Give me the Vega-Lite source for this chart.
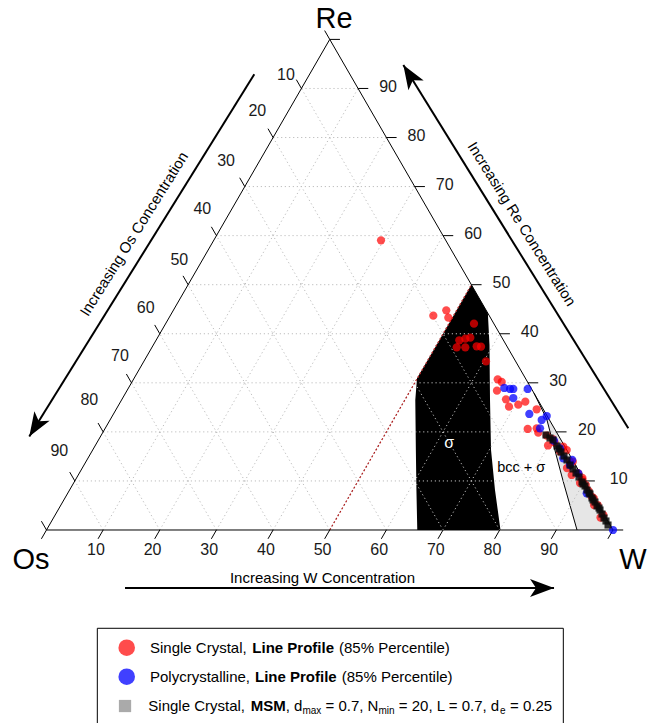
{
"$schema": "https://vega.github.io/schema/vega-lite/v6.json",
"width": 657, "height": 723, "autosize": {"type": "none"}, "padding": 0, "background": "white",
"config": {"view": {"stroke": null}, "text": {"font": "Liberation Sans"}},
"datasets": {
"bcc": [{"y":24.13,"xl":86.07,"xr":86.07},{"y":19.59,"xl":88.30,"xr":88.69},{"y":14.56,"xl":89.62,"xr":91.59},{"y":8.47,"xl":91.24,"xr":95.11},{"y":0,"xl":93.65,"xr":100}],
"sigma": [{"y":43.30,"xl":75,"xr":75},{"y":38.25,"xl":72.09,"xr":77.91},{"y":32.66,"xl":68.86,"xr":78.20},{"y":26.8,"xl":65.4,"xr":78.25},{"y":22.95,"xl":65.1,"xr":78.29},{"y":14.12,"xl":65.2,"xr":78.47},{"y":7.06,"xl":65.3,"xr":79.17},{"y":0,"xl":65.45,"xr":80.14}],
"grid": [
{"x":5,"y":8.66,"x2":95,"y2":8.66},{"x":10,"y":17.321,"x2":90,"y2":17.321},{"x":15,"y":25.981,"x2":85,"y2":25.981},{"x":20,"y":34.641,"x2":80,"y2":34.641},{"x":25,"y":43.301,"x2":75,"y2":43.301},{"x":30,"y":51.962,"x2":70,"y2":51.962},{"x":35,"y":60.622,"x2":65,"y2":60.622},{"x":40,"y":69.282,"x2":60,"y2":69.282},{"x":45,"y":77.942,"x2":55,"y2":77.942},
{"x":10,"y":0,"x2":55,"y2":77.942},{"x":20,"y":0,"x2":60,"y2":69.282},{"x":30,"y":0,"x2":65,"y2":60.622},{"x":40,"y":0,"x2":70,"y2":51.962},{"x":50,"y":0,"x2":75,"y2":43.301},{"x":60,"y":0,"x2":80,"y2":34.641},{"x":70,"y":0,"x2":85,"y2":25.981},{"x":80,"y":0,"x2":90,"y2":17.321},{"x":90,"y":0,"x2":95,"y2":8.66},
{"x":90,"y":0,"x2":45,"y2":77.942},{"x":80,"y":0,"x2":40,"y2":69.282},{"x":70,"y":0,"x2":35,"y2":60.622},{"x":60,"y":0,"x2":30,"y2":51.962},{"x":50,"y":0,"x2":25,"y2":43.301},{"x":40,"y":0,"x2":20,"y2":34.641},{"x":30,"y":0,"x2":15,"y2":25.981},{"x":20,"y":0,"x2":10,"y2":17.321},{"x":10,"y":0,"x2":5,"y2":8.66}],
"edges": [{"x":0,"y":0,"x2":100,"y2":0},{"x":100,"y":0,"x2":50,"y2":86.603},{"x":50,"y":86.603,"x2":0,"y2":0}],
"ticks": [
{"x":0,"y":0,"x2":-0.9,"y2":-1.559},{"x":10,"y":0,"x2":9.1,"y2":-1.559},{"x":20,"y":0,"x2":19.1,"y2":-1.559},{"x":30,"y":0,"x2":29.1,"y2":-1.559},{"x":40,"y":0,"x2":39.1,"y2":-1.559},{"x":50,"y":0,"x2":49.1,"y2":-1.559},{"x":60,"y":0,"x2":59.1,"y2":-1.559},{"x":70,"y":0,"x2":69.1,"y2":-1.559},{"x":80,"y":0,"x2":79.1,"y2":-1.559},{"x":90,"y":0,"x2":89.1,"y2":-1.559},{"x":100,"y":0,"x2":99.1,"y2":-1.559},
{"x":50,"y":86.603,"x2":49.1,"y2":88.162},{"x":45,"y":77.942,"x2":44.1,"y2":79.501},{"x":40,"y":69.282,"x2":39.1,"y2":70.841},{"x":35,"y":60.622,"x2":34.1,"y2":62.181},{"x":30,"y":51.962,"x2":29.1,"y2":53.521},{"x":25,"y":43.301,"x2":24.1,"y2":44.86},{"x":20,"y":34.641,"x2":19.1,"y2":36.2},{"x":15,"y":25.981,"x2":14.1,"y2":27.54},{"x":10,"y":17.321,"x2":9.1,"y2":18.88},{"x":5,"y":8.66,"x2":4.1,"y2":10.219},{"x":0,"y":0,"x2":-0.9,"y2":1.559},
{"x":100,"y":0,"x2":101.8,"y2":0},{"x":95,"y":8.66,"x2":96.8,"y2":8.66},{"x":90,"y":17.321,"x2":91.8,"y2":17.321},{"x":85,"y":25.981,"x2":86.8,"y2":25.981},{"x":80,"y":34.641,"x2":81.8,"y2":34.641},{"x":75,"y":43.301,"x2":76.8,"y2":43.301},{"x":70,"y":51.962,"x2":71.8,"y2":51.962},{"x":65,"y":60.622,"x2":66.8,"y2":60.622},{"x":60,"y":69.282,"x2":61.8,"y2":69.282},{"x":55,"y":77.942,"x2":56.8,"y2":77.942},{"x":50,"y":86.603,"x2":51.8,"y2":86.603}],
"ticklabels": [
{"x":8.73,"y":-3.53,"t":"10"},{"x":18.73,"y":-3.53,"t":"20"},{"x":28.73,"y":-3.53,"t":"30"},{"x":38.73,"y":-3.53,"t":"40"},{"x":48.73,"y":-3.53,"t":"50"},{"x":58.73,"y":-3.53,"t":"60"},{"x":68.73,"y":-3.53,"t":"70"},{"x":78.73,"y":-3.53,"t":"80"},{"x":88.73,"y":-3.53,"t":"90"},
{"x":42.28,"y":80.32,"t":"10"},{"x":37.21,"y":73.89,"t":"20"},{"x":31.69,"y":65.19,"t":"30"},{"x":27.50,"y":56.68,"t":"40"},{"x":23.44,"y":47.66,"t":"50"},{"x":17.51,"y":39.21,"t":"60"},{"x":12.97,"y":30.72,"t":"70"},{"x":7.56,"y":22.95,"t":"80"},{"x":2.26,"y":14.00,"t":"90"},
{"x":101.0,"y":8.96,"t":"10"},{"x":95.4,"y":17.62,"t":"20"},{"x":90.3,"y":26.28,"t":"30"},{"x":85.3,"y":34.94,"t":"40"},{"x":80.3,"y":43.60,"t":"50"},{"x":75.3,"y":52.26,"t":"60"},{"x":70.3,"y":60.92,"t":"70"},{"x":65.3,"y":69.58,"t":"80"},{"x":60.3,"y":78.24,"t":"90"}],
"vertices": [{"x":50.75,"y":90.29,"t":"Re"},{"x":-2.74,"y":-5.30,"t":"Os"},{"x":103.54,"y":-5.30,"t":"W"}],
"arrows": [{"x":36.68,"y":80.44,"x2":-3.04,"y2":16.52},{"x":102.70,"y":17.95,"x2":62.99,"y2":82.08},{"x":13.86,"y":-10.24,"x2":89.59,"y2":-10.24}],
"red": [{"x":59.05,"y":51.14},{"x":68.28,"y":37.83},{"x":70.57,"y":38.78},{"x":70.93,"y":37.48},{"x":75.46,"y":36.42},{"x":72.87,"y":33.49},{"x":73.93,"y":33.77},{"x":74.81,"y":33.95},{"x":72.41,"y":32.25},{"x":73.93,"y":32.25},{"x":75.94,"y":32.43},{"x":76.70,"y":32.36},{"x":77.58,"y":29.78},{"x":79.65,"y":26.60},{"x":80.35,"y":26.13},{"x":79.52,"y":24.59},{"x":81.11,"y":23.07},{"x":81.64,"y":21.77},{"x":83.28,"y":22.12},{"x":84.52,"y":22.65},{"x":86.53,"y":21.31},{"x":84.94,"y":17.83},{"x":86.81,"y":17.18},{"x":88.30,"y":16.65},{"x":89.71,"y":15.41},{"x":86.53,"y":17.95},{"x":91.23,"y":14.70},{"x":91.83,"y":14.12},{"x":90.65,"y":13.82},{"x":92.41,"y":12.06},{"x":92.90,"y":12.06},{"x":92.71,"y":9.71},{"x":93.88,"y":10.01},{"x":94.60,"y":8.83},{"x":95.20,"y":7.94},{"x":96.24,"y":5.88},{"x":96.60,"y":5.60},{"x":97.30,"y":4.41},{"x":98.30,"y":2.65},{"x":89.36,"y":16.06},{"x":94.18,"y":8.30},{"x":88.53,"y":14.92},{"x":91.88,"y":10.94},{"x":94.60,"y":9.18},{"x":96.65,"y":4.41},{"x":97.80,"y":2.20},{"x":95.70,"y":6.90}],
"blue": [{"x":80.81,"y":25.07},{"x":81.82,"y":24.89},{"x":82.40,"y":24.89},{"x":82.40,"y":23.30},{"x":84.94,"y":24.89},{"x":85.23,"y":20.48},{"x":87.41,"y":19.42},{"x":88.30,"y":20.12},{"x":87.12,"y":17.95},{"x":89.59,"y":15.76},{"x":90.65,"y":14.42},{"x":91.23,"y":12.66},{"x":92.41,"y":11.47},{"x":92.80,"y":12.36},{"x":93.88,"y":10.01},{"x":95.36,"y":6.48},{"x":100,"y":0}],
"msm": [{"x":88.17,"y":16.77},{"x":88.88,"y":16.24},{"x":89.41,"y":15.89},{"x":90.12,"y":14.83},{"x":90.47,"y":14.30},{"x":90.82,"y":13.77},{"x":91.35,"y":13.06},{"x":91.88,"y":12.36},{"x":92.41,"y":11.47},{"x":92.94,"y":10.77},{"x":93.47,"y":10.06},{"x":94.00,"y":9.36},{"x":94.53,"y":8.47},{"x":94.71,"y":8.12},{"x":95.06,"y":7.77},{"x":95.41,"y":7.06},{"x":95.77,"y":6.53},{"x":95.94,"y":6.35},{"x":96.29,"y":5.65},{"x":96.47,"y":5.30},{"x":96.82,"y":4.94},{"x":97.18,"y":4.24},{"x":97.53,"y":3.88},{"x":97.71,"y":3.53},{"x":98.06,"y":2.82},{"x":98.41,"y":2.12},{"x":98.76,"y":1.59},{"x":99.12,"y":0.88}],
"legnormal": [{"x":18.27,"y":-20.78,"t":"Single Crystal,"},{"x":51.63,"y":-20.78,"t":"(85% Percentile)"},{"x":18.27,"y":-25.90,"t":"Polycrystalline,"},{"x":52.11,"y":-25.90,"t":"(85% Percentile)"},{"x":17.97,"y":-31.07,"t":"Single Crystal,"},{"x":42.22,"y":-31.07,"t":", d"},{"x":49.25,"y":-31.07,"t":"= 0.7, N"},{"x":62.19,"y":-31.07,"t":"= 20, L = 0.7, d"},{"x":81.82,"y":-31.07,"t":"= 0.25"}],
"legbold": [{"x":36.33,"y":-20.78,"t":"Line Profile"},{"x":36.81,"y":-25.90,"t":"Line Profile"},{"x":36.05,"y":-31.07,"t":"MSM"}],
"legsub": [{"x":45.17,"y":-32.0,"t":"max"},{"x":58.61,"y":-32.0,"t":"min"},{"x":80.05,"y":-32.0,"t":"e"}]
},
"layer": [
{"data":{"name":"bcc"},"mark":{"type":"area","orient":"horizontal","color":"#e6e6e6"},
 "encoding":{"y":{"field":"y","type":"quantitative","scale":{"domain":[-34.069,93.557],"nice":false,"zero":false},"axis":null},"x":{"field":"xl","type":"quantitative","scale":{"domain":[-8.208,107.767],"nice":false,"zero":false},"axis":null},"x2":{"field":"xr"}}},
{"data":{"name":"sigma"},"mark":{"type":"area","orient":"horizontal","color":"black"},
 "encoding":{"y":{"field":"y","type":"quantitative","scale":{"domain":[-34.069,93.557],"nice":false,"zero":false},"axis":null},"x":{"field":"xl","type":"quantitative","scale":{"domain":[-8.208,107.767],"nice":false,"zero":false},"axis":null},"x2":{"field":"xr"}}},
{"data":{"name":"bcc"},"mark":{"type":"line","color":"black","strokeWidth":1},
 "encoding":{"y":{"field":"y","type":"quantitative","scale":{"domain":[-34.069,93.557],"nice":false,"zero":false},"axis":null},"x":{"field":"xl","type":"quantitative","scale":{"domain":[-8.208,107.767],"nice":false,"zero":false},"axis":null},"order":{"field":"y","type":"quantitative"}}},
{"data":{"name":"grid"},"mark":{"type":"rule","color":"#bdbdbd","strokeWidth":1,"strokeDash":[1.2,2.8]},
 "encoding":{"x":{"field":"x","type":"quantitative","scale":{"domain":[-8.208,107.767],"nice":false,"zero":false},"axis":null},"y":{"field":"y","type":"quantitative","scale":{"domain":[-34.069,93.557],"nice":false,"zero":false},"axis":null},"x2":{"field":"x2"},"y2":{"field":"y2"}}},
{"data":{"values":[{"x":50,"y":0,"x2":75,"y2":43.301}]},"mark":{"type":"rule","color":"#b02020","strokeWidth":1.2,"strokeDash":[2,2]},
 "encoding":{"x":{"field":"x","type":"quantitative","scale":{"domain":[-8.208,107.767],"nice":false,"zero":false},"axis":null},"y":{"field":"y","type":"quantitative","scale":{"domain":[-34.069,93.557],"nice":false,"zero":false},"axis":null},"x2":{"field":"x2"},"y2":{"field":"y2"}}},
{"data":{"name":"edges"},"mark":{"type":"rule","color":"black","strokeWidth":1},
 "encoding":{"x":{"field":"x","type":"quantitative","scale":{"domain":[-8.208,107.767],"nice":false,"zero":false},"axis":null},"y":{"field":"y","type":"quantitative","scale":{"domain":[-34.069,93.557],"nice":false,"zero":false},"axis":null},"x2":{"field":"x2"},"y2":{"field":"y2"}}},
{"data":{"name":"ticks"},"mark":{"type":"rule","color":"black","strokeWidth":1},
 "encoding":{"x":{"field":"x","type":"quantitative","scale":{"domain":[-8.208,107.767],"nice":false,"zero":false},"axis":null},"y":{"field":"y","type":"quantitative","scale":{"domain":[-34.069,93.557],"nice":false,"zero":false},"axis":null},"x2":{"field":"x2"},"y2":{"field":"y2"}}},
{"data":{"name":"ticklabels"},"mark":{"type":"text","fontSize":16,"align":"center","baseline":"middle","color":"#1a1a1a"},
 "encoding":{"x":{"field":"x","type":"quantitative","scale":{"domain":[-8.208,107.767],"nice":false,"zero":false},"axis":null},"y":{"field":"y","type":"quantitative","scale":{"domain":[-34.069,93.557],"nice":false,"zero":false},"axis":null},"text":{"field":"t","type":"nominal"}}},
{"data":{"name":"vertices"},"mark":{"type":"text","fontSize":29,"align":"center","baseline":"middle","color":"black"},
 "encoding":{"x":{"field":"x","type":"quantitative","scale":{"domain":[-8.208,107.767],"nice":false,"zero":false},"axis":null},"y":{"field":"y","type":"quantitative","scale":{"domain":[-34.069,93.557],"nice":false,"zero":false},"axis":null},"text":{"field":"t","type":"nominal"}}},
{"data":{"name":"arrows"},"mark":{"type":"rule","color":"black","strokeWidth":2},
 "encoding":{"x":{"field":"x","type":"quantitative","scale":{"domain":[-8.208,107.767],"nice":false,"zero":false},"axis":null},"y":{"field":"y","type":"quantitative","scale":{"domain":[-34.069,93.557],"nice":false,"zero":false},"axis":null},"x2":{"field":"x2"},"y2":{"field":"y2"}}},
{"data":{"values":[{"x":-3.04,"y":16.52}]},"mark":{"type":"point","shape":"M0,0L0.75,2L0,1.5L-0.75,2Z","filled":true,"color":"black","opacity":1,"size":576,"angle":212},
 "encoding":{"x":{"field":"x","type":"quantitative","scale":{"domain":[-8.208,107.767],"nice":false,"zero":false},"axis":null},"y":{"field":"y","type":"quantitative","scale":{"domain":[-34.069,93.557],"nice":false,"zero":false},"axis":null}}},
{"data":{"values":[{"x":62.99,"y":82.08}]},"mark":{"type":"point","shape":"M0,0L0.75,2L0,1.5L-0.75,2Z","filled":true,"color":"black","opacity":1,"size":576,"angle":328},
 "encoding":{"x":{"field":"x","type":"quantitative","scale":{"domain":[-8.208,107.767],"nice":false,"zero":false},"axis":null},"y":{"field":"y","type":"quantitative","scale":{"domain":[-34.069,93.557],"nice":false,"zero":false},"axis":null}}},
{"data":{"values":[{"x":89.59,"y":-10.24}]},"mark":{"type":"point","shape":"M0,0L0.75,2L0,1.5L-0.75,2Z","filled":true,"color":"black","opacity":1,"size":576,"angle":90},
 "encoding":{"x":{"field":"x","type":"quantitative","scale":{"domain":[-8.208,107.767],"nice":false,"zero":false},"axis":null},"y":{"field":"y","type":"quantitative","scale":{"domain":[-34.069,93.557],"nice":false,"zero":false},"axis":null}}},
{"data":{"values":[{"x":15.45,"y":52.25,"t":"Increasing Os Concentration"}]},"mark":{"type":"text","fontSize":15,"align":"center","baseline":"middle","angle":-58,"color":"black"},
 "encoding":{"x":{"field":"x","type":"quantitative","scale":{"domain":[-8.208,107.767],"nice":false,"zero":false},"axis":null},"y":{"field":"y","type":"quantitative","scale":{"domain":[-34.069,93.557],"nice":false,"zero":false},"axis":null},"text":{"field":"t","type":"nominal"}}},
{"data":{"values":[{"x":83.88,"y":54.02,"t":"Increasing Re Concentration"}]},"mark":{"type":"text","fontSize":15,"align":"center","baseline":"middle","angle":58,"color":"black"},
 "encoding":{"x":{"field":"x","type":"quantitative","scale":{"domain":[-8.208,107.767],"nice":false,"zero":false},"axis":null},"y":{"field":"y","type":"quantitative","scale":{"domain":[-34.069,93.557],"nice":false,"zero":false},"axis":null},"text":{"field":"t","type":"nominal"}}},
{"data":{"values":[{"x":48.72,"y":-8.47,"t":"Increasing W Concentration"}]},"mark":{"type":"text","fontSize":15,"align":"center","baseline":"middle","color":"black"},
 "encoding":{"x":{"field":"x","type":"quantitative","scale":{"domain":[-8.208,107.767],"nice":false,"zero":false},"axis":null},"y":{"field":"y","type":"quantitative","scale":{"domain":[-34.069,93.557],"nice":false,"zero":false},"axis":null},"text":{"field":"t","type":"nominal"}}},
{"data":{"values":[{"x":71.10,"y":15.30,"t":"σ"}]},"mark":{"type":"text","fontSize":16,"align":"center","baseline":"middle","color":"white"},
 "encoding":{"x":{"field":"x","type":"quantitative","scale":{"domain":[-8.208,107.767],"nice":false,"zero":false},"axis":null},"y":{"field":"y","type":"quantitative","scale":{"domain":[-34.069,93.557],"nice":false,"zero":false},"axis":null},"text":{"field":"t","type":"nominal"}}},
{"data":{"values":[{"x":83.80,"y":10.89,"t":"bcc + σ"}]},"mark":{"type":"text","fontSize":14.5,"align":"center","baseline":"middle","color":"black"},
 "encoding":{"x":{"field":"x","type":"quantitative","scale":{"domain":[-8.208,107.767],"nice":false,"zero":false},"axis":null},"y":{"field":"y","type":"quantitative","scale":{"domain":[-34.069,93.557],"nice":false,"zero":false},"axis":null},"text":{"field":"t","type":"nominal"}}},
{"data":{"name":"red"},"mark":{"type":"circle","color":"#ff0000","opacity":0.7,"size":68},
 "encoding":{"x":{"field":"x","type":"quantitative","scale":{"domain":[-8.208,107.767],"nice":false,"zero":false},"axis":null},"y":{"field":"y","type":"quantitative","scale":{"domain":[-34.069,93.557],"nice":false,"zero":false},"axis":null}}},
{"data":{"name":"blue"},"mark":{"type":"circle","color":"#0000ff","opacity":0.75,"size":68},
 "encoding":{"x":{"field":"x","type":"quantitative","scale":{"domain":[-8.208,107.767],"nice":false,"zero":false},"axis":null},"y":{"field":"y","type":"quantitative","scale":{"domain":[-34.069,93.557],"nice":false,"zero":false},"axis":null}}},
{"data":{"name":"msm"},"mark":{"type":"square","color":"#0a0a0a","opacity":0.85,"size":50},
 "encoding":{"x":{"field":"x","type":"quantitative","scale":{"domain":[-8.208,107.767],"nice":false,"zero":false},"axis":null},"y":{"field":"y","type":"quantitative","scale":{"domain":[-34.069,93.557],"nice":false,"zero":false},"axis":null}}},
{"data":{"values":[{"x":8.97,"y":-17.35,"x2":91.23,"y2":-36.5}]},"mark":{"type":"rect","fill":"white","stroke":"black","strokeWidth":1},
 "encoding":{"x":{"field":"x","type":"quantitative","scale":{"domain":[-8.208,107.767],"nice":false,"zero":false},"axis":null},"y":{"field":"y","type":"quantitative","scale":{"domain":[-34.069,93.557],"nice":false,"zero":false},"axis":null},"x2":{"field":"x2"},"y2":{"field":"y2"}}},
{"data":{"values":[{"x":14.16,"y":-20.78}]},"mark":{"type":"circle","color":"#ff0000","opacity":0.7,"size":275},
 "encoding":{"x":{"field":"x","type":"quantitative","scale":{"domain":[-8.208,107.767],"nice":false,"zero":false},"axis":null},"y":{"field":"y","type":"quantitative","scale":{"domain":[-34.069,93.557],"nice":false,"zero":false},"axis":null}}},
{"data":{"values":[{"x":14.16,"y":-25.90}]},"mark":{"type":"circle","color":"#0000ff","opacity":0.75,"size":275},
 "encoding":{"x":{"field":"x","type":"quantitative","scale":{"domain":[-8.208,107.767],"nice":false,"zero":false},"axis":null},"y":{"field":"y","type":"quantitative","scale":{"domain":[-34.069,93.557],"nice":false,"zero":false},"axis":null}}},
{"data":{"values":[{"x":13.86,"y":-31.07}]},"mark":{"type":"square","color":"#aaaaaa","opacity":1,"size":150},
 "encoding":{"x":{"field":"x","type":"quantitative","scale":{"domain":[-8.208,107.767],"nice":false,"zero":false},"axis":null},"y":{"field":"y","type":"quantitative","scale":{"domain":[-34.069,93.557],"nice":false,"zero":false},"axis":null}}},
{"data":{"name":"legnormal"},"mark":{"type":"text","fontSize":15,"align":"left","baseline":"middle","color":"black"},
 "encoding":{"x":{"field":"x","type":"quantitative","scale":{"domain":[-8.208,107.767],"nice":false,"zero":false},"axis":null},"y":{"field":"y","type":"quantitative","scale":{"domain":[-34.069,93.557],"nice":false,"zero":false},"axis":null},"text":{"field":"t","type":"nominal"}}},
{"data":{"name":"legbold"},"mark":{"type":"text","fontSize":15,"fontWeight":"bold","align":"left","baseline":"middle","color":"black"},
 "encoding":{"x":{"field":"x","type":"quantitative","scale":{"domain":[-8.208,107.767],"nice":false,"zero":false},"axis":null},"y":{"field":"y","type":"quantitative","scale":{"domain":[-34.069,93.557],"nice":false,"zero":false},"axis":null},"text":{"field":"t","type":"nominal"}}},
{"data":{"name":"legsub"},"mark":{"type":"text","fontSize":10,"align":"left","baseline":"middle","color":"black"},
 "encoding":{"x":{"field":"x","type":"quantitative","scale":{"domain":[-8.208,107.767],"nice":false,"zero":false},"axis":null},"y":{"field":"y","type":"quantitative","scale":{"domain":[-34.069,93.557],"nice":false,"zero":false},"axis":null},"text":{"field":"t","type":"nominal"}}}
]
}
